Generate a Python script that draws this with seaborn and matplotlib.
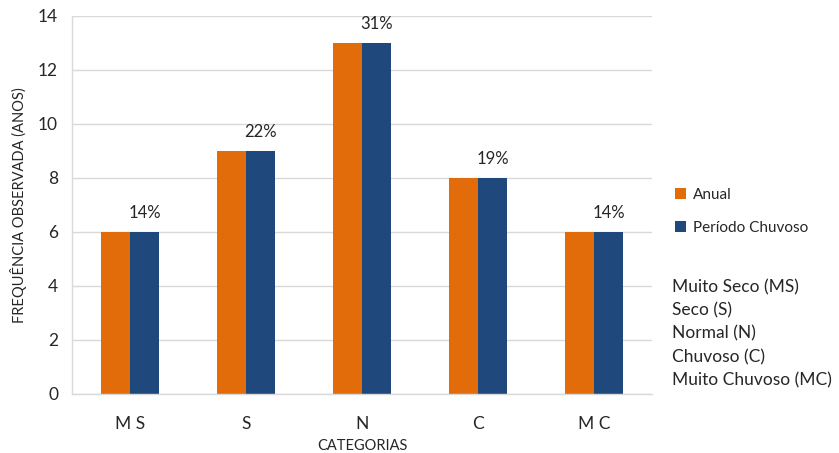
import matplotlib
matplotlib.use("Agg")
import matplotlib.pyplot as plt
import seaborn as sns
import pandas as pd

# Frequency of years per rainfall category
categorias = ["M S", "S", "N", "C", "M C"]
anual = [6, 9, 13, 8, 6]
periodo_chuvoso = [6, 9, 13, 8, 6]
percentuais = ["14%", "22%", "31%", "19%", "14%"]
series = ["Anual", "Período Chuvoso"]
descricoes = ["Muito Seco (MS)", "Seco (S)", "Normal (N)", "Chuvoso (C)", "Muito Chuvoso (MC)"]

df = pd.DataFrame({
    "categoria": categorias * 2,
    "serie": [series[0]] * len(categorias) + [series[1]] * len(categorias),
    "valor": anual + periodo_chuvoso,
})

sns.set_style("white")
plt.rcParams["font.family"] = ["Lato", "DejaVu Sans"]

fig = plt.figure(figsize=(8.39, 4.53), dpi=100)
ax = fig.add_axes([72 / 839, 1 - 394 / 453, 580 / 839, 378 / 453])

cores = {"Anual": "#E36C0A", "Período Chuvoso": "#1F497D"}
sns.barplot(data=df, x="categoria", y="valor", hue="serie", order=categorias,
            hue_order=series, palette=cores, width=0.5, saturation=1,
            ax=ax, legend=True, linewidth=0)

ax.set_xlim(-0.5, len(categorias) - 0.5)
ax.set_ylim(0, 14)
ax.set_yticks(range(0, 15, 2))
ax.yaxis.grid(True, color="#D9D9D9", linewidth=1)
ax.set_axisbelow(True)

for side in ["top", "right"]:
    ax.spines[side].set_visible(False)
for side in ["left", "bottom"]:
    ax.spines[side].set_color("#D9D9D9")
    ax.spines[side].set_linewidth(1)

ax.set_xticks([i - 0.5 for i in range(len(categorias) + 1)], minor=True)
ax.tick_params(axis="x", which="major", length=0, pad=16, labelsize=12.5, colors="#262626")
ax.tick_params(axis="x", which="minor", length=5, color="#D9D9D9", width=1)
ax.tick_params(axis="y", which="major", length=4, labelsize=12.5, pad=6,
               colors="#D9D9D9", labelcolor="#262626")

ax.set_xlabel("CATEGORIAS", fontsize=10.5, color="#262626", labelpad=5)
ax.set_ylabel("FREQUÊNCIA OBSERVADA (ANOS)", fontsize=10.5, color="#262626", labelpad=8)

# Percentage labels above the rainy-season bars
for bar, texto in zip(ax.containers[1], percentuais):
    ax.text(bar.get_x() + bar.get_width() / 2, bar.get_height() + 0.4, texto,
            ha="center", va="bottom", fontsize=12, color="#262626")

handles, labels = ax.get_legend_handles_labels()
ax.legend(handles, labels, loc="upper left", bbox_to_anchor=(675 / 839, 1 - 188 / 453),
          bbox_transform=fig.transFigure, frameon=False, fontsize=11,
          handlelength=0.75, handleheight=0.75, handletextpad=0.4, labelspacing=1.25,
          borderaxespad=0, borderpad=0)

for i, d in enumerate(descricoes):
    fig.text(672 / 839, 1 - (287 + 23.3 * i) / 453, d, ha="left", va="center",
             fontsize=12.5, color="#262626")

fig.savefig("out.png", dpi=100)
